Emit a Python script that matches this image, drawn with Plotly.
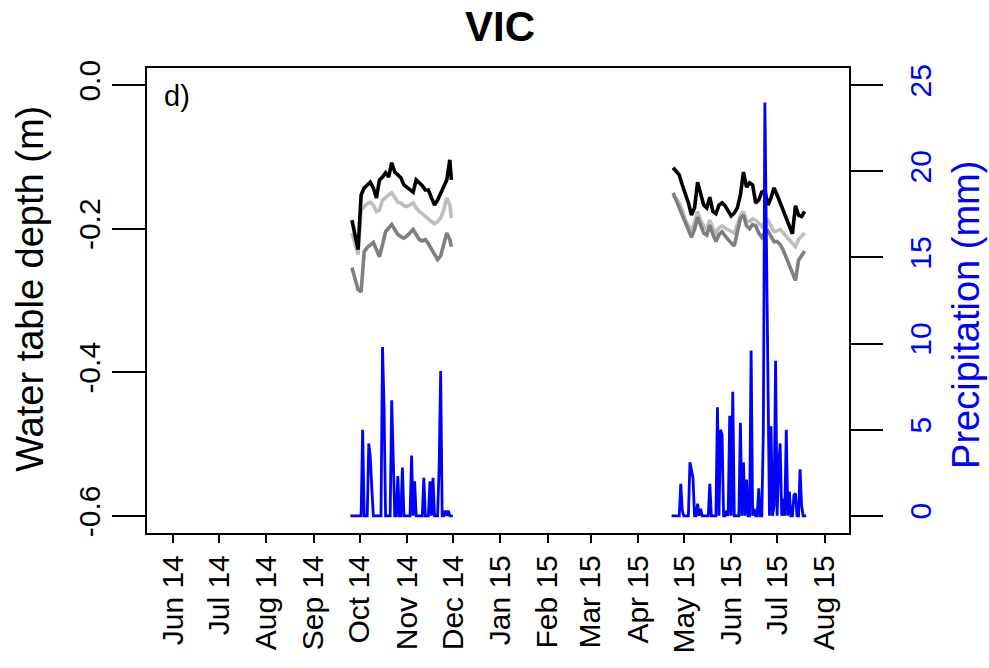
import plotly.graph_objects as go
import pandas as pd

# ---------------- data ----------------
# Water table depth (m) – autumn 2014 period
p1_dates = ["2014-09-26", "2014-09-28", "2014-09-30",
            "2014-10-02", "2014-10-04", "2014-10-06", "2014-10-08", "2014-10-10",
            "2014-10-12", "2014-10-14", "2014-10-16", "2014-10-18", "2014-10-20",
            "2014-10-22", "2014-10-24", "2014-10-26", "2014-10-28", "2014-10-30",
            "2014-11-01", "2014-11-03", "2014-11-05", "2014-11-07", "2014-11-09",
            "2014-11-11", "2014-11-13", "2014-11-15", "2014-11-17", "2014-11-19",
            "2014-11-21", "2014-11-23", "2014-11-25", "2014-11-27", "2014-11-29",
            "2014-11-30"]
p1_black = [-0.188, -0.208, -0.229,
            -0.153, -0.143, -0.139, -0.135, -0.143, -0.157, -0.132, -0.128, -0.122,
            -0.128, -0.108, -0.121, -0.125, -0.129, -0.139,
            -0.142, -0.146, -0.149, -0.132, -0.136, -0.140, -0.146, -0.146, -0.157,
            -0.167, -0.160, -0.150, -0.143, -0.132, -0.104,
            -0.132]
p1_light = [-0.206, -0.222, -0.236,
            -0.174, -0.169, -0.165, -0.163, -0.167, -0.176, -0.174, -0.160, -0.156,
            -0.153, -0.150, -0.157, -0.163, -0.164, -0.168,
            -0.169, -0.167, -0.164, -0.171, -0.176, -0.179, -0.183, -0.186, -0.190,
            -0.193, -0.190, -0.185, -0.174, -0.157, -0.167,
            -0.185]
p1_dark = [-0.254, -0.268, -0.285,
           -0.288, -0.232, -0.226, -0.222, -0.219, -0.229, -0.239, -0.222, -0.204,
           -0.199, -0.194, -0.201, -0.208, -0.211, -0.213,
           -0.210, -0.206, -0.201, -0.208, -0.215, -0.217, -0.215, -0.221, -0.229,
           -0.236, -0.243, -0.238, -0.222, -0.206, -0.215,
           -0.225]

# Water table depth (m) – summer 2015 period
p2_dates = ["2015-04-24", "2015-04-26", "2015-04-28", "2015-04-30",
            "2015-05-02", "2015-05-04", "2015-05-06", "2015-05-08", "2015-05-10",
            "2015-05-12", "2015-05-14", "2015-05-16", "2015-05-18", "2015-05-20",
            "2015-05-22", "2015-05-24", "2015-05-26", "2015-05-28", "2015-05-30",
            "2015-06-01", "2015-06-03", "2015-06-05", "2015-06-07", "2015-06-09",
            "2015-06-11", "2015-06-13", "2015-06-15", "2015-06-17", "2015-06-19",
            "2015-06-21", "2015-06-23", "2015-06-25", "2015-06-27", "2015-06-29",
            "2015-07-01", "2015-07-03", "2015-07-05", "2015-07-07", "2015-07-09",
            "2015-07-11", "2015-07-13", "2015-07-15", "2015-07-17", "2015-07-19"]
p2_black = [-0.115, -0.121, -0.125, -0.139,
            -0.150, -0.164, -0.181, -0.171, -0.135, -0.153, -0.167, -0.171, -0.156,
            -0.176, -0.179, -0.167, -0.164, -0.168, -0.174,
            -0.182, -0.178, -0.171, -0.153, -0.121, -0.142, -0.136, -0.139, -0.164,
            -0.160, -0.149, -0.147, -0.167, -0.157, -0.143,
            -0.153, -0.164, -0.176, -0.188, -0.196, -0.207, -0.168, -0.181, -0.183,
            -0.176]
p2_light = [-0.154, -0.158, -0.164, -0.174,
            -0.188, -0.196, -0.203, -0.190, -0.176, -0.188, -0.197, -0.201, -0.188,
            -0.199, -0.206, -0.199, -0.196, -0.199, -0.201,
            -0.204, -0.206, -0.194, -0.181, -0.176, -0.190, -0.190, -0.186, -0.188,
            -0.193, -0.197, -0.190, -0.188, -0.196, -0.204,
            -0.203, -0.201, -0.206, -0.211, -0.215, -0.221, -0.225, -0.215, -0.210,
            -0.206]
p2_dark = [-0.150, -0.160, -0.169, -0.181,
           -0.192, -0.202, -0.212, -0.201, -0.184, -0.195, -0.206, -0.209, -0.195,
           -0.208, -0.218, -0.208, -0.204, -0.210, -0.216,
           -0.220, -0.224, -0.207, -0.186, -0.181, -0.196, -0.200, -0.194, -0.196,
           -0.206, -0.212, -0.206, -0.203, -0.211, -0.218,
           -0.218, -0.222, -0.230, -0.240, -0.250, -0.262, -0.272, -0.244, -0.238,
           -0.231]

# Daily precipitation (mm): days with rain; all other days of each period are 0
rain_p1_start, rain_p1_end = "2014-09-25", "2014-12-01"
rain_p1_days = ["2014-10-03", "2014-10-07", "2014-10-08", "2014-10-09", "2014-10-16",
                "2014-10-17", "2014-10-22", "2014-10-23", "2014-10-26", "2014-10-29",
                "2014-11-04", "2014-11-06", "2014-11-12", "2014-11-16", "2014-11-18",
                "2014-11-22", "2014-11-23", "2014-11-26", "2014-11-28"]
rain_p1_mm = [5.0, 4.2, 3.4, 1.6, 9.8, 6.3, 6.7, 3.1, 2.3, 2.8,
              3.5, 2.0, 2.2, 2.0, 2.2, 2.8, 8.4, 0.3, 0.3]

rain_p2_start, rain_p2_end = "2015-04-23", "2015-07-20"
rain_p2_days = ["2015-04-29", "2015-04-30", "2015-05-05", "2015-05-06", "2015-05-07",
                "2015-05-10", "2015-05-12", "2015-05-18", "2015-05-23", "2015-05-25",
                "2015-05-26", "2015-05-29", "2015-05-31", "2015-06-02", "2015-06-07",
                "2015-06-09", "2015-06-11", "2015-06-14", "2015-06-16", "2015-06-19",
                "2015-06-22", "2015-06-23", "2015-06-24", "2015-06-25", "2015-06-27",
                "2015-06-29", "2015-06-30", "2015-07-02", "2015-07-03", "2015-07-05",
                "2015-07-07", "2015-07-09", "2015-07-12", "2015-07-13", "2015-07-16",
                "2015-07-17"]
rain_p2_mm = [1.85, 0.3, 3.1, 2.7, 2.2, 0.7, 0.4, 1.85, 6.3, 5.0,
              4.7, 0.3, 5.8, 7.2, 5.4, 3.1, 2.1, 9.6, 0.4, 1.6,
              5.0, 24.0, 16.2, 11.0, 5.2, 0.6, 9.0, 2.9, 4.2, 1.0,
              5.0, 1.4, 1.2, 1.3, 2.7, 0.6]

month_ticks = ["2014-06-01", "2014-07-01", "2014-08-01", "2014-09-01", "2014-10-01",
               "2014-11-01", "2014-12-01", "2015-01-01", "2015-02-01", "2015-03-01",
               "2015-04-01", "2015-05-01", "2015-06-01", "2015-07-01", "2015-08-01"]
month_labels = ["Jun 14", "Jul 14", "Aug 14", "Sep 14", "Oct 14", "Nov 14", "Dec 14",
                "Jan 15", "Feb 15", "Mar 15", "Apr 15", "May 15", "Jun 15", "Jul 15",
                "Aug 15"]
depth_ticks = [-0.6, -0.4, -0.2, 0.0]
depth_labels = ["-0.6", "-0.4", "-0.2", "0.0"]
precip_ticks = [0, 5, 10, 15, 20, 25]

# ---------------- build ----------------
def daily(start, end, days, mm):
    s = pd.Series(mm, index=pd.to_datetime(days))
    idx = pd.date_range(start, end, freq="D")
    return s.reindex(idx).fillna(0.0)

r1 = daily(rain_p1_start, rain_p1_end, rain_p1_days, rain_p1_mm)
r2 = daily(rain_p2_start, rain_p2_end, rain_p2_days, rain_p2_mm)
rain_x = list(r1.index) + [None] + list(r2.index)
rain_y = list(r1.values) + [None] + list(r2.values)

BLUE = "#0000FF"
FONT = "Liberation Sans, Arial, sans-serif"

fig = go.Figure()
series = [
    (p1_light, p2_light, "#BEBEBE"),
    (p1_dark, p2_dark, "#7F7F7F"),
    (p1_black, p2_black, "#000000"),
]
for a, b, col in series:
    fig.add_trace(go.Scatter(
        x=p1_dates + [None] + p2_dates, y=a + [None] + b,
        mode="lines", line=dict(color=col, width=3.6),
        connectgaps=False, showlegend=False, hoverinfo="skip"))

fig.add_trace(go.Scatter(
    x=rain_x, y=rain_y, mode="lines", yaxis="y2",
    line=dict(color=BLUE, width=2.8), connectgaps=False, showlegend=False))

axis_common = dict(showgrid=False, zeroline=False, ticks="outside",
                   tickcolor="black", tickwidth=2.4)

fig.update_layout(
    width=989, height=668,
    margin=dict(l=147, r=140, t=68, b=135, pad=0),
    paper_bgcolor="white", plot_bgcolor="white",
    showlegend=False,
    font=dict(family=FONT, size=29, color="black"),
    xaxis=dict(type="date", range=["2014-05-15", "2015-08-17"],
               tickmode="array", tickvals=month_ticks, ticktext=month_labels,
               tickangle=-90, ticklen=8, showline=True, linecolor="black",
               linewidth=2.4, mirror=True, tickfont=dict(size=30),
               automargin=False, **axis_common),
    yaxis=dict(range=[-0.624, 0.024], tickmode="array", tickvals=depth_ticks,
               ticktext=depth_labels, tickangle=-90, ticklen=33, showline=True,
               linecolor="black", linewidth=2.4, mirror=True,
               tickfont=dict(size=30), automargin=False, **axis_common),
    yaxis2=dict(overlaying="y", side="right", range=[-1, 26], tickmode="array",
                tickvals=precip_ticks, tickangle=-90, ticklen=33, showline=False,
                ticklabelstandoff=12,
                tickfont=dict(size=30, color=BLUE), automargin=False, **axis_common),
    annotations=[
        dict(text="<b>VIC</b>", xref="paper", yref="paper", x=0.503, y=1.090,
             xanchor="center", yanchor="middle", showarrow=False,
             font=dict(family=FONT, size=42, color="black")),
        dict(text="d)", xref="paper", yref="paper", x=0.0427, y=0.940,
             xanchor="center", yanchor="middle", showarrow=False,
             font=dict(family=FONT, size=29, color="black")),
        dict(text="Water table depth (m)", xref="paper", yref="paper",
             x=-0.1667, y=0.525, xanchor="center", yanchor="middle",
             textangle=-90, showarrow=False,
             font=dict(family=FONT, size=38, color="black")),
        dict(text="Precipitation (mm)", xref="paper", yref="paper",
             x=1.1667, y=0.469, xanchor="center", yanchor="middle",
             textangle=-90, showarrow=False,
             font=dict(family=FONT, size=38, color=BLUE)),
    ],
)

fig.write_html("out.html")
